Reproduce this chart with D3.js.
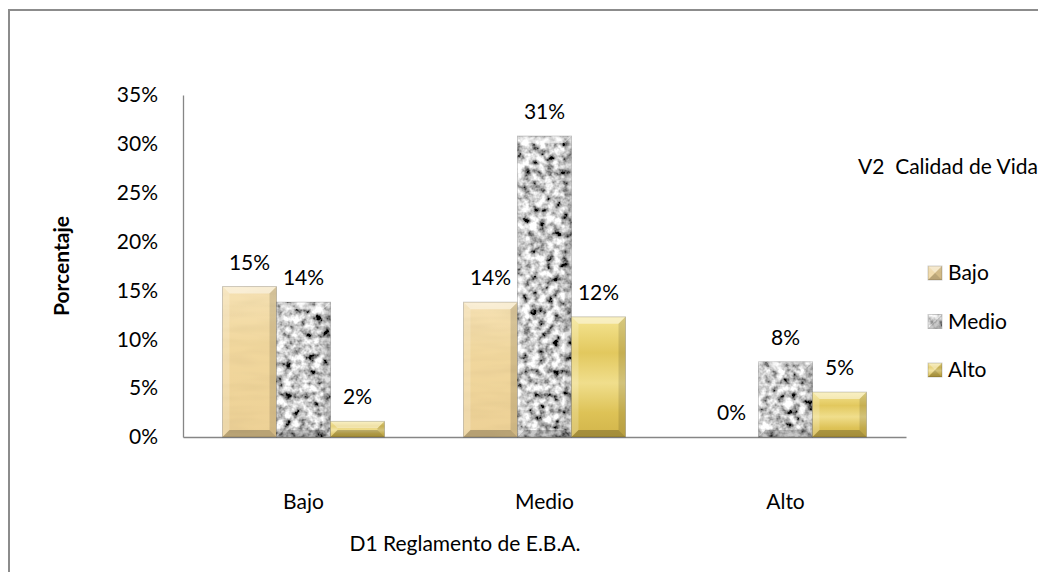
<!DOCTYPE html>
<html>
<head>
<meta charset="utf-8">
<script src="https://cdn.jsdelivr.net/npm/d3@7"></script>
<style>
  body { margin: 0; background: #fff; }
  text { font-family: Lato, "Open Sans", sans-serif; fill: #000; }
</style>
</head>
<body>
<script>
// valores (porcentajes), una lista por serie
// orden de cada lista: categoria Bajo, Medio, Alto
var categories = ['Bajo', 'Medio', 'Alto'];
var seriesNames = ['Bajo', 'Medio', 'Alto'];
var serieBajo = [15.4, 13.8, 0];
var serieMedio = [13.8, 30.8, 7.7];
var serieAlto = [1.6, 12.3, 4.6];
var yTicks = [0, 5, 10, 15, 20, 25, 30, 35];

var width = 1038;
var height = 572;
var fs = '21px';

var svg = d3.select('body').append('svg')
  .attr('width', width)
  .attr('height', height);

var defs = svg.append('defs');

// textura pergamino (serie Bajo)
var gBajo = defs.append('linearGradient').attr('id', 'fillBajo')
  .attr('x1', 0).attr('y1', 0).attr('x2', 0).attr('y2', 1);
gBajo.append('stop').attr('offset', '0%').attr('stop-color', '#f6e2b4');
gBajo.append('stop').attr('offset', '40%').attr('stop-color', '#f1d79d');
gBajo.append('stop').attr('offset', '100%').attr('stop-color', '#edd196');

var fParch = defs.append('filter').attr('id', 'parch')
  .attr('x', 0).attr('y', 0).attr('width', 1).attr('height', 1);
fParch.append('feTurbulence').attr('type', 'fractalNoise')
  .attr('baseFrequency', '0.02 0.12').attr('numOctaves', 2).attr('seed', 4).attr('result', 'n');
fParch.append('feColorMatrix').attr('in', 'n').attr('type', 'matrix')
  .attr('values', '0 0 0 0 0.55  0 0 0 0 0.42  0 0 0 0 0.2  1.2 0 0 0 -0.45')
  .attr('result', 'nc');
fParch.append('feComposite').attr('in', 'nc').attr('in2', 'SourceGraphic')
  .attr('operator', 'in').attr('result', 'nn');
fParch.append('feComponentTransfer').attr('in', 'nn').attr('result', 'nf')
  .append('feFuncA').attr('type', 'linear').attr('slope', 0.35);
var mp = fParch.append('feMerge');
mp.append('feMergeNode').attr('in', 'SourceGraphic');
mp.append('feMergeNode').attr('in', 'nf');

// textura granito (serie Medio)
var fGran = defs.append('filter').attr('id', 'granite')
  .attr('x', 0).attr('y', 0).attr('width', 1).attr('height', 1);
fGran.append('feTurbulence').attr('type', 'fractalNoise')
  .attr('baseFrequency', 0.13).attr('numOctaves', 3).attr('seed', 7).attr('result', 'n');
fGran.append('feColorMatrix').attr('in', 'n').attr('type', 'matrix')
  .attr('values', '2.2 0 0 0 -0.52  2.2 0 0 0 -0.52  2.2 0 0 0 -0.52  0 0 0 0 1')
  .attr('result', 'g');
fGran.append('feComposite').attr('in', 'g').attr('in2', 'SourceGraphic')
  .attr('operator', 'in');

// dorado (serie Alto)
var gAlto = defs.append('linearGradient').attr('id', 'fillAlto')
  .attr('x1', 0).attr('y1', 0).attr('x2', 0).attr('y2', 1);
gAlto.append('stop').attr('offset', '0%').attr('stop-color', '#f5e592');
gAlto.append('stop').attr('offset', '30%').attr('stop-color', '#e2c85e');
gAlto.append('stop').attr('offset', '55%').attr('stop-color', '#f0de8c');
gAlto.append('stop').attr('offset', '80%').attr('stop-color', '#ddc256');
gAlto.append('stop').attr('offset', '100%').attr('stop-color', '#d2b54a');

// marco exterior
svg.append('rect')
  .attr('x', 9).attr('y', 10)
  .attr('width', 1060).attr('height', 600)
  .attr('fill', 'none')
  .attr('stroke', '#8c8c8c')
  .attr('stroke-width', 2);

var x0 = d3.scaleBand()
  .domain(categories)
  .range([183, 906])
  .paddingInner(79 / 241)
  .paddingOuter(79 / 241 / 2);

var x1 = d3.scaleBand()
  .domain(seriesNames)
  .range([0, x0.bandwidth()]);

var y = d3.scaleLinear()
  .domain([0, 35])
  .range([437, 95]);

var fills = {
  Bajo: { fill: 'url(#fillBajo)', filter: 'url(#parch)' },
  Medio: { fill: '#999', filter: 'url(#granite)' },
  Alto: { fill: 'url(#fillAlto)', filter: null }
};

var rows = [];
categories.forEach(function(c, i) {
  rows.push({ cat: c, serie: 'Bajo', value: serieBajo[i] });
  rows.push({ cat: c, serie: 'Medio', value: serieMedio[i] });
  rows.push({ cat: c, serie: 'Alto', value: serieAlto[i] });
});

// ejes
var yAxis = svg.append('g')
  .attr('transform', 'translate(183,0)')
  .call(d3.axisLeft(y).tickValues(yTicks).tickSize(0).tickPadding(25)
    .tickFormat(function(d) { return d + '%'; }));
yAxis.select('.domain').attr('stroke', '#868686').attr('stroke-width', 1.3);
yAxis.selectAll('text').style('font-size', fs).attr('fill', '#000');

var xAxis = svg.append('g')
  .attr('transform', 'translate(0,437)')
  .call(d3.axisBottom(x0).tickSize(0).tickPadding(57).tickSizeOuter(0));
xAxis.select('.domain').attr('stroke', '#868686').attr('stroke-width', 1.3);
xAxis.selectAll('text').style('font-size', fs).attr('fill', '#000');

// bevel
function bevel(g, bx, by, bw, bh) {
  var s = Math.min(7, bh / 2);
  var x2 = bx + bw, y2 = by + bh;
  g.append('polygon').attr('points', [[bx, by], [x2, by], [x2 - s, by + s], [bx + s, by + s]].join(' '))
    .attr('fill', '#fff').attr('fill-opacity', 0.45);
  g.append('polygon').attr('points', [[bx, by], [bx + s, by + s], [bx + s, y2 - s], [bx, y2]].join(' '))
    .attr('fill', '#fff').attr('fill-opacity', 0.2);
  g.append('polygon').attr('points', [[x2, by], [x2, y2], [x2 - s, y2 - s], [x2 - s, by + s]].join(' '))
    .attr('fill', '#000').attr('fill-opacity', 0.12);
  g.append('polygon').attr('points', [[bx, y2], [x2, y2], [x2 - s, y2 - s], [bx + s, y2 - s]].join(' '))
    .attr('fill', '#000').attr('fill-opacity', 0.22);
  g.append('rect').attr('x', bx).attr('y', by).attr('width', bw).attr('height', bh)
    .attr('fill', 'none').attr('stroke', '#000').attr('stroke-opacity', 0.18);
}

var bars = svg.append('g').selectAll('g')
  .data(rows.filter(function(d) { return d.value > 0; }))
  .enter().append('g');

bars.each(function(d) {
  var g = d3.select(this);
  var bx = x0(d.cat) + x1(d.serie);
  var by = y(d.value);
  var bw = x1.bandwidth();
  var bh = y(0) - y(d.value);
  g.append('rect')
    .attr('x', bx).attr('y', by)
    .attr('width', bw).attr('height', bh)
    .attr('fill', fills[d.serie].fill)
    .attr('filter', fills[d.serie].filter);
  bevel(g, bx, by, bw, bh);
});

// etiquetas de datos
svg.append('g').selectAll('text')
  .data(rows)
  .enter().append('text')
  .attr('x', function(d) { return x0(d.cat) + x1(d.serie) + x1.bandwidth() / 2; })
  .attr('y', function(d) { return y(d.value) - 17; })
  .attr('text-anchor', 'middle')
  .style('font-size', fs)
  .text(function(d) { return Math.round(d.value) + '%'; });

// titulos de ejes
svg.append('text')
  .attr('transform', 'translate(69,266) rotate(-90)')
  .attr('text-anchor', 'middle')
  .style('font-size', fs)
  .style('font-weight', 'bold')
  .text('Porcentaje');

svg.append('text')
  .attr('x', 465).attr('y', 551)
  .attr('text-anchor', 'middle')
  .style('font-size', fs)
  .text('D1 Reglamento de E.B.A.');

// leyenda
svg.append('text')
  .attr('x', 858).attr('y', 174)
  .style('font-size', fs)
  .attr('xml:space', 'preserve')
  .text('V2  Calidad de Vida');

var legend = svg.append('g').selectAll('g')
  .data(seriesNames)
  .enter().append('g')
  .attr('transform', function(d, i) { return 'translate(928,' + (266 + i * 48.5) + ')'; });

legend.each(function(d) {
  var g = d3.select(this);
  g.append('rect').attr('width', 14).attr('height', 14)
    .attr('fill', fills[d].fill)
    .attr('filter', fills[d].filter);
  bevel(g, 0, 0, 14, 14);
});

legend.append('text')
  .attr('x', 20).attr('y', 14)
  .style('font-size', fs)
  .text(function(d) { return d; });
</script>
</body>
</html>
